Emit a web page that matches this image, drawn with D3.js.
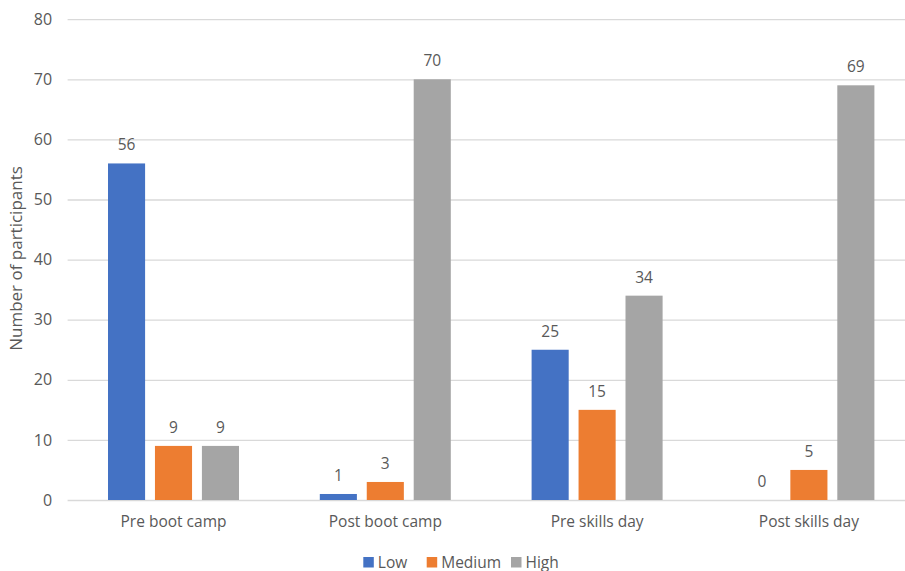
<!DOCTYPE html>
<html>
<head>
<meta charset="utf-8">
<script src="https://cdn.jsdelivr.net/npm/d3@7"></script>
<style>
  html, body { margin: 0; padding: 0; background: #ffffff; }
  svg { display: block; }
  text { font-family: "Open Sans", "Noto Sans", sans-serif; fill: #595959; }
</style>
</head>
<body>
<svg id="chart" width="905" height="571"></svg>
<script>
const categories = ["Pre boot camp", "Post boot camp", "Pre skills day", "Post skills day"];
const seriesNames = ["Low", "Medium", "High"];
const lowValues = [56, 1, 25, 0];
const mediumValues = [9, 3, 15, 5];
const highValues = [9, 70, 34, 69];
const yTicks = [0, 10, 20, 30, 40, 50, 60, 70, 80];
const colors = ["#4472C4", "#ED7D31", "#A5A5A5"];

const seriesValues = [lowValues, mediumValues, highValues];

const svg = d3.select("#chart");
const plotLeft = 67.6, bandW = 211.8, plotTop = 19.2, plotBottom = 500;
const plotRight = plotLeft + bandW * categories.length;

const y = d3.scaleLinear().domain([0, 80]).range([plotBottom, plotTop]);
const x0 = d3.scaleBand().domain(categories).range([plotLeft, plotRight]).padding(0);
const x1 = d3.scaleBand().domain(seriesNames).range([40.4, 171.4]).paddingInner(0.21).paddingOuter(0);
const color = d3.scaleOrdinal().domain(seriesNames).range(colors);

// gridlines
const yAxis = d3.axisLeft(y).tickValues(yTicks).tickSize(-(905 - plotLeft)).tickPadding(15.5);
const gAxis = svg.append("g").attr("transform", `translate(${plotLeft},0)`).call(yAxis);
gAxis.select(".domain").remove();
gAxis.selectAll(".tick line").attr("stroke", "#D9D9D9").attr("stroke-width", 1.3);
gAxis.selectAll(".tick text").attr("font-size", 16).attr("fill", "#595959")
  .style("font-family", '"Open Sans", "Noto Sans", sans-serif');

// bars
const data = categories.map((c, i) => ({
  cat: c,
  vals: seriesNames.map((s, j) => ({ s, v: seriesValues[j][i] }))
}));

const groups = svg.append("g").selectAll("g").data(data).join("g")
  .attr("transform", d => `translate(${x0(d.cat)},0)`);

groups.selectAll("rect").data(d => d.vals).join("rect")
  .attr("x", d => x1(d.s))
  .attr("y", d => y(d.v))
  .attr("width", x1.bandwidth())
  .attr("height", d => y(0) - y(d.v))
  .attr("fill", d => color(d.s));

groups.selectAll("text.lbl").data(d => d.vals).join("text")
  .attr("class", "lbl")
  .attr("x", d => x1(d.s) + x1.bandwidth() / 2)
  .attr("y", d => y(d.v) - 13)
  .attr("text-anchor", "middle")
  .attr("font-size", 15.5)
  .text(d => d.v);

// x axis category labels
const xAxis = d3.axisBottom(x0).tickSize(0).tickPadding(16);
const gx = svg.append("g").attr("transform", `translate(0,${plotBottom})`).call(xAxis);
gx.select(".domain").remove();
gx.selectAll(".tick text").attr("font-size", 15.5).attr("fill", "#595959")
  .style("font-family", '"Open Sans", "Noto Sans", sans-serif');

// y axis title
svg.append("text")
  .attr("transform", `translate(22,258.5) rotate(-90)`)
  .attr("text-anchor", "middle")
  .attr("font-size", 17)
  .text("Number of participants");

// legend
const legendItems = [
  { s: "Low", x: 363.3 },
  { s: "Medium", x: 426.7 },
  { s: "High", x: 511 }
];
const lg = svg.append("g").selectAll("g").data(legendItems).join("g")
  .attr("transform", d => `translate(${d.x},567.5)`);
lg.append("rect").attr("x", 0).attr("y", -10.5).attr("width", 10.5).attr("height", 10.5)
  .attr("fill", d => color(d.s));
lg.append("text").attr("x", 14.5).attr("y", 0).attr("font-size", 15.5).text(d => d.s);
</script>
</body>
</html>
